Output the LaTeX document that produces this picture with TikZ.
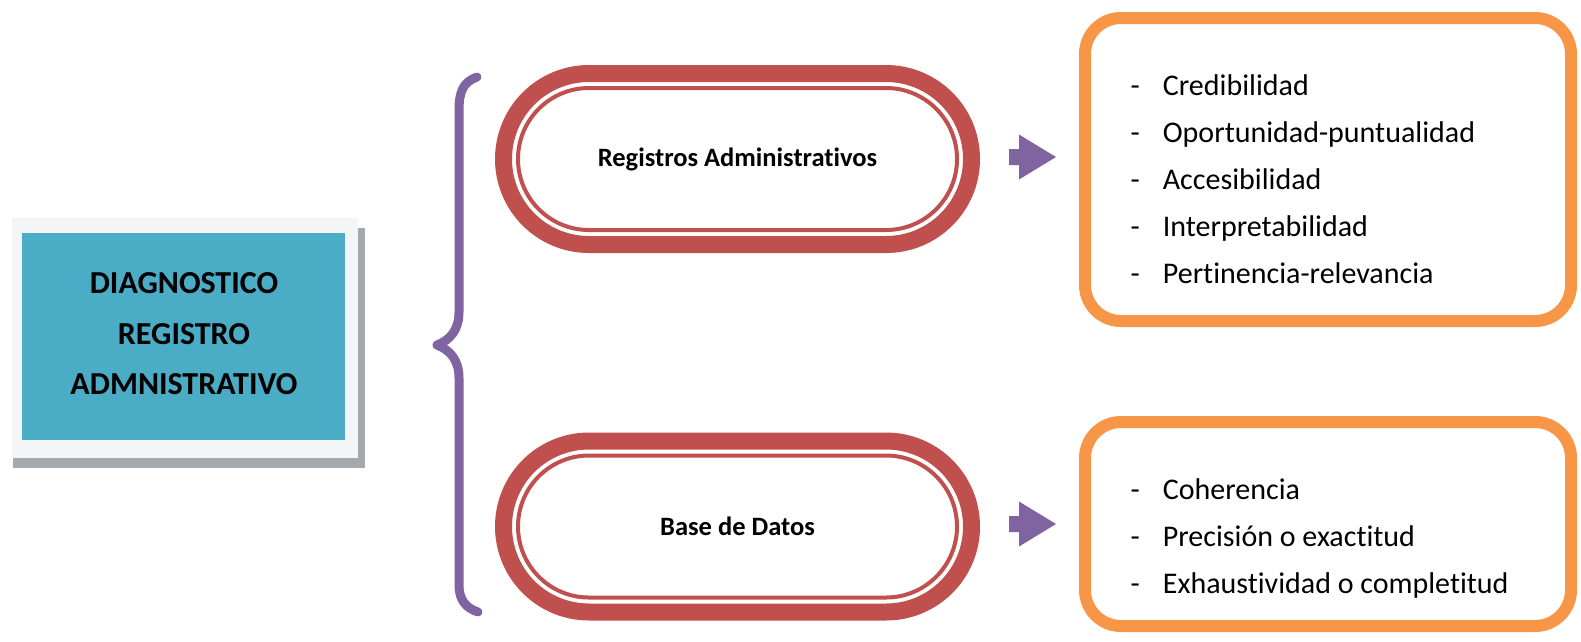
\documentclass[tikz,border=0pt]{standalone}
\usepackage{fontspec}
\setmainfont{Carlito}[Ligatures=NoCommon]
\usetikzlibrary{calc}
\definecolor{dblue}{HTML}{4BACC6}
\definecolor{dred}{HTML}{C0504D}
\definecolor{dorange}{HTML}{F79646}
\definecolor{dpurple}{HTML}{8064A2}
\definecolor{dshadow}{HTML}{A3A9AD}
\definecolor{dframe}{HTML}{F3F5F6}
\begin{document}
\begin{tikzpicture}[x=1pt,y=-1pt,
  pill/.style={draw=dred, line width=17pt, fill=white, rounded corners=85.5pt, minimum width=468pt, minimum height=171pt, inner sep=0pt, font=\fontsize{26.5}{30}\selectfont\bfseries},
  pillring/.style={draw=dred, line width=4pt, rounded corners=71pt},
  qualbox/.style={draw=dorange, line width=12pt, rounded corners=36pt, minimum width=486pt, fill=white, inner sep=0pt},
  itemlist/.style={anchor=base west, inner sep=0pt, font=\fontsize{30}{47}\selectfont},
  bracepath/.style={draw=dpurple, line width=9pt, line cap=round, line join=round},
  blockarrow/.style={fill=dpurple},
  mainbox/.style={fill=dblue, minimum width=323pt, minimum height=207pt, inner sep=0pt},
  maintext/.style={align=center, font=\fontsize{32}{50.5}\selectfont\bfseries, inner sep=0pt}
]
\useasboundingbox[fill=white] (0,0) rectangle (1581,641);

% main box with frame and shadow
\fill[dshadow] (13,228) rectangle (365,468);
\fill[dframe] (12,218) rectangle (358,458);
\node[mainbox] (diag) at (183.5,336.5) {};
\node[maintext] (diagtext) at (184,334) {DIAGNOSTICO\\REGISTRO\\ADMNISTRATIVO};

% brace
\draw[bracepath] (477,77) .. controls (463,82) and (459,92) .. (459,110) -- (459,312)
  .. controls (459,330) and (450,340) .. (437,345)
  .. controls (450,350) and (459,360) .. (459,378) -- (459,585)
  .. controls (459,600) and (466,608) .. (478,612);

% pills
\node[pill] (reg) at (737.5,159) {Registros Administrativos};
\draw[pillring] ($(reg.center)+(-219.5,-71)$) rectangle ($(reg.center)+(219.5,71)$);
\node[pill] (base) at (737.5,526.5) {Base de Datos};
\draw[pillring] ($(base.center)+(-219.5,-71)$) rectangle ($(base.center)+(219.5,71)$);

% arrows
\coordinate (ar1) at (1009,157);
\fill[blockarrow] (ar1) -- ++(0,-8) -- ++(10,0) -- ++(0,-14.5) -- ++(37,22.5) -- ++(-37,22.5) -- ++(0,-14.5) -- ++(-10,0) -- cycle;
\coordinate (ar2) at (1009,524);
\fill[blockarrow] (ar2) -- ++(0,-8) -- ++(10,0) -- ++(0,-14.5) -- ++(37,22.5) -- ++(-37,22.5) -- ++(0,-14.5) -- ++(-10,0) -- cycle;

% quality boxes
\node[qualbox, minimum height=303pt] (q1) at (1328,169.5) {};
\node[itemlist] (q1list) at (1130.5,95) {\begin{tabular}[t]{@{}l@{\hspace{23pt}}l@{}}
-&Credibilidad\\
-&Oportunidad-puntualidad\\
-&Accesibilidad\\
-&Interpretabilidad\\
-&Pertinencia-relevancia
\end{tabular}};

\node[qualbox, minimum height=204pt] (q2) at (1328,524) {};
\node[itemlist] (q2list) at (1130.5,499) {\begin{tabular}[t]{@{}l@{\hspace{23pt}}l@{}}
-&Coherencia\\
-&Precisión o exactitud\\
-&Exhaustividad o completitud
\end{tabular}};
\end{tikzpicture}
\end{document}
